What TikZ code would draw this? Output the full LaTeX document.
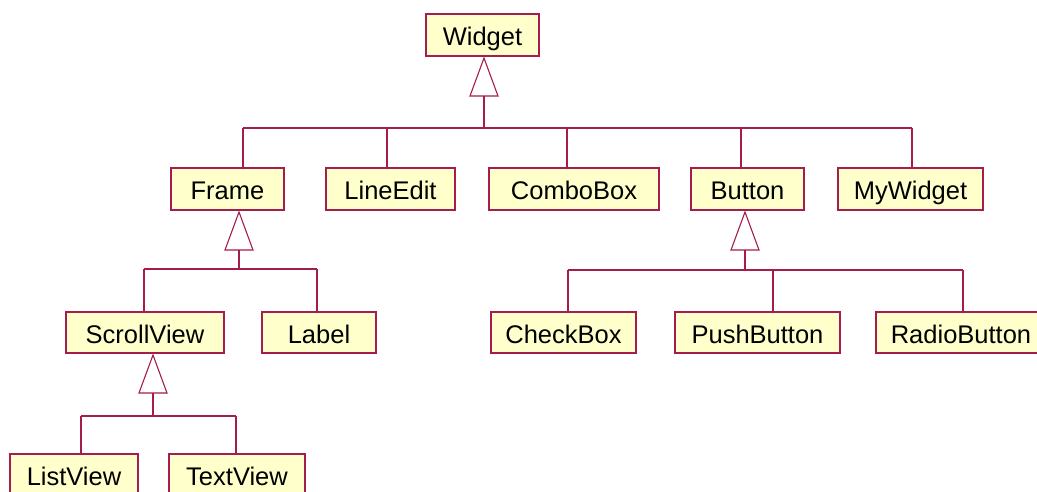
\documentclass[tikz,border=0pt]{standalone}
\usepackage{fontspec}
\setmainfont{Liberation Sans}
\definecolor{umlline}{RGB}{165,28,78}
\definecolor{umlfill}{RGB}{255,255,204}
\tikzset{
  cls/.style={draw=umlline, fill=umlfill, line width=1.1pt, inner sep=0pt,
    font=\fontsize{25.5}{29}\selectfont, text height=22pt, text depth=1pt},
  conn/.style={draw=umlline, line width=1.1pt},
  inh/.style={draw=umlline, fill=white, line width=1.1pt, line join=miter},
}
\newcommand{\clsnode}[6]{% name, x1, x2, y1, y2, text
  \node[cls, minimum width={#3pt-#2pt}, minimum height={#5pt-#4pt}] (#1) at ({(#2+#3)/2},{(#4+#5)/2}) {#6};}
\newcommand{\inhtri}[4]{% name, apex x, apex y, half width
  \coordinate (#1apex) at (#2,#3);
  \coordinate (#1base) at (#2,#3+38);
  \draw[inh] (#1apex) -- (#2+#4,#3+38) -- (#2-#4,#3+38) -- cycle;}
\begin{document}
\begin{tikzpicture}[x=1pt,y=-1pt]
\clip (0,0) rectangle (1037,491);
\fill[white] (0,0) rectangle (1037,491);
% classes
\clsnode{widget}{426}{539}{14}{56}{Widget}
\clsnode{frame}{171}{284}{168}{210}{Frame}
\clsnode{lineedit}{326}{455}{168}{210}{LineEdit}
\clsnode{combobox}{489}{659}{168}{210}{ComboBox}
\clsnode{button}{691}{804}{168}{210}{Button}
\clsnode{mywidget}{838}{983}{168}{210}{MyWidget}
\clsnode{scrollview}{66}{224}{312}{353}{ScrollView}
\clsnode{label}{262}{376}{312}{353}{Label}
\clsnode{checkbox}{491}{636}{312}{353}{CheckBox}
\clsnode{pushbutton}{675}{840}{312}{353}{PushButton}
\clsnode{radiobutton}{876}{1046}{312}{353}{RadioButton}
\clsnode{listview}{10}{138}{454}{496}{ListView}
\clsnode{textview}{169}{305}{454}{496}{TextView}
% Widget hierarchy
\inhtri{w}{484}{58}{14}
\coordinate (wbus) at (484,128);
\coordinate (jframe) at (243,128);
\coordinate (jlineedit) at (387,128);
\coordinate (jcombobox) at (567,128);
\coordinate (jbutton) at (741,128);
\coordinate (jmywidget) at (912,128);
\draw[conn] (wbase) -- (wbus);
\draw[conn] (jframe) -- (jmywidget);
\draw[conn] (jframe) -- (jframe |- frame.north);
\draw[conn] (jlineedit) -- (jlineedit |- lineedit.north);
\draw[conn] (jcombobox) -- (jcombobox |- combobox.north);
\draw[conn] (jbutton) -- (jbutton |- button.north);
\draw[conn] (jmywidget) -- (jmywidget |- mywidget.north);
% Frame hierarchy
\inhtri{f}{239}{212}{14}
\coordinate (fbus) at (239,269);
\coordinate (jscrollview) at (144,269);
\coordinate (jlabel) at (317,269);
\draw[conn] (fbase) -- (fbus);
\draw[conn] (jscrollview) -- (jlabel);
\draw[conn] (jscrollview) -- (jscrollview |- scrollview.north);
\draw[conn] (jlabel) -- (jlabel |- label.north);
% Button hierarchy
\inhtri{b}{745}{212}{14}
\coordinate (bbus) at (745,270);
\coordinate (jcheckbox) at (568,270);
\coordinate (jpushbutton) at (773,270);
\coordinate (jradiobutton) at (963,270);
\draw[conn] (bbase) -- (bbus);
\draw[conn] (jcheckbox) -- (jradiobutton);
\draw[conn] (jcheckbox) -- (jcheckbox |- checkbox.north);
\draw[conn] (jpushbutton) -- (jpushbutton |- pushbutton.north);
\draw[conn] (jradiobutton) -- (jradiobutton |- radiobutton.north);
% ScrollView hierarchy
\inhtri{s}{153}{355}{14}
\coordinate (sbus) at (153,416);
\coordinate (jlistview) at (81,416);
\coordinate (jtextview) at (236,416);
\draw[conn] (sbase) -- (sbus);
\draw[conn] (jlistview) -- (jtextview);
\draw[conn] (jlistview) -- (jlistview |- listview.north);
\draw[conn] (jtextview) -- (jtextview |- textview.north);
\end{tikzpicture}
\end{document}
